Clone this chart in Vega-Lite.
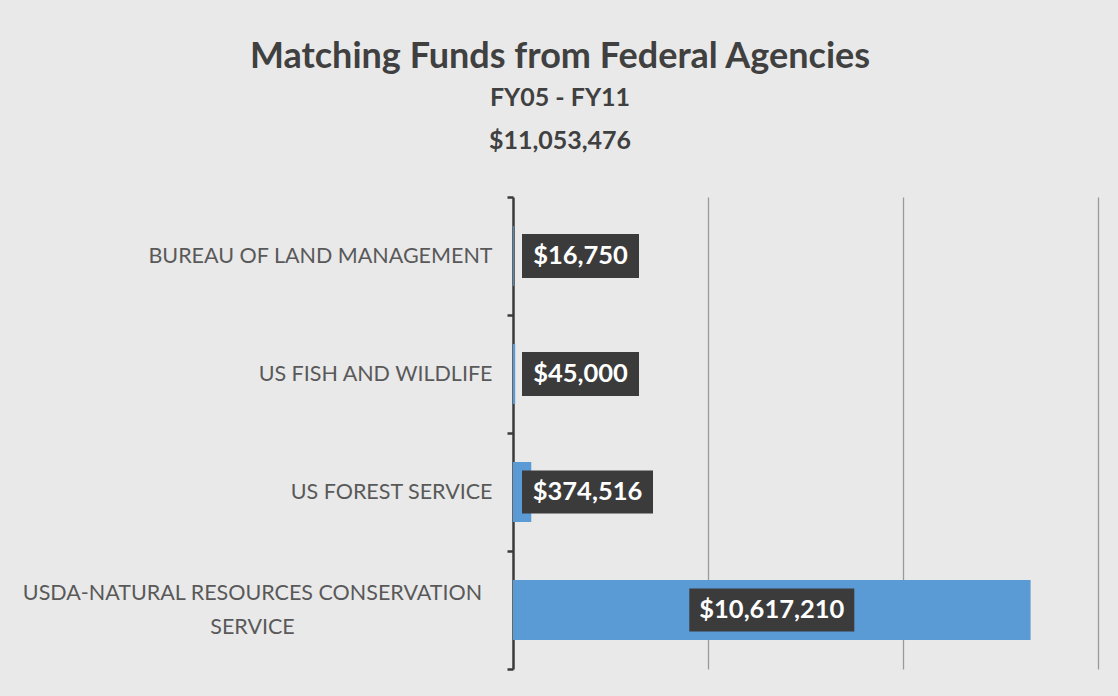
{
  "$schema": "https://vega.github.io/schema/vega-lite/v6.json",
  "width": 585,
  "height": 472,
  "autosize": "none",
  "padding": {"left": 513, "top": 197, "right": 20, "bottom": 27},
  "background": "#e9e9e9",
  "config": {"view": {"stroke": null}, "font": "Lato"},
  "title": {
    "text": "Matching Funds from Federal Agencies",
    "subtitle": ["FY05 - FY11", "$11,053,476"],
    "frame": "bounds",
    "anchor": "middle",
    "font": "Lato",
    "fontSize": 36,
    "fontWeight": "bold",
    "color": "#404040",
    "subtitleFont": "Lato",
    "subtitleFontSize": 25,
    "subtitleFontWeight": "bold",
    "subtitleColor": "#404040",
    "subtitleLineHeight": 43,
    "subtitlePadding": 10,
    "offset": 31
  },
  "data": {
    "values": [
      {"agency": "BUREAU OF LAND MANAGEMENT", "amount": 16750},
      {"agency": "US FISH AND WILDLIFE", "amount": 45000},
      {"agency": "US FOREST SERVICE", "amount": 374516},
      {"agency": "USDA-NATURAL RESOURCES CONSERVATION SERVICE", "amount": 10617210}
    ]
  },
  "encoding": {
    "y": {
      "field": "agency",
      "type": "nominal",
      "sort": null,
      "scale": {"paddingInner": 0, "paddingOuter": 0},
      "axis": {
        "title": null,
        "domainColor": "#3a3a3a",
        "domainWidth": 2.5,
        "tickColor": "#3a3a3a",
        "tickWidth": 2.5,
        "tickSize": 6,
        "tickBand": "extent",
        "labelFont": "Lato",
        "labelFontSize": 21.5,
        "labelColor": "#595959",
        "labelLimit": 0,
        "labelLineHeight": 34,
        "labelExpr": "datum.value == 'USDA-NATURAL RESOURCES CONSERVATION SERVICE' ? ['USDA-NATURAL RESOURCES CONSERVATION', 'SERVICE'] : datum.value",
        "labelAlign": {"condition": {"test": "datum.value == 'USDA-NATURAL RESOURCES CONSERVATION SERVICE'", "value": "center"}, "value": "right"},
        "labelPadding": {"condition": {"test": "datum.value == 'USDA-NATURAL RESOURCES CONSERVATION SERVICE'", "value": 255}, "value": 15},
        "labelOffset": {"condition": {"test": "datum.value == 'USDA-NATURAL RESOURCES CONSERVATION SERVICE'", "value": -17}, "value": 0}
      }
    }
  },
  "layer": [
    {
      "mark": {"type": "bar", "color": "#5b9bd5", "height": 60},
      "encoding": {
        "x": {
          "field": "amount",
          "type": "quantitative",
          "scale": {"domain": [0, 12000000], "nice": false},
          "axis": {
            "title": null,
            "domain": false,
            "ticks": false,
            "labels": false,
            "values": [4000000, 8000000, 12000000],
            "grid": true,
            "gridColor": "#9a9a9a",
            "gridWidth": 1.3
          }
        }
      }
    },
    {
      "transform": [{"filter": "datum.amount < 100000"}],
      "mark": {"type": "rect", "color": "#3b3b3b", "width": 117, "height": 44, "xOffset": 67.5},
      "encoding": {
        "x": {"datum": 0, "type": "quantitative", "scale": {"domain": [0, 12000000], "nice": false}, "axis": null}
      }
    },
    {
      "transform": [{"filter": "datum.amount < 100000"}],
      "mark": {"type": "text", "color": "white", "font": "Lato", "fontSize": 25.5, "fontWeight": "bold", "align": "center", "baseline": "middle", "dx": 67.5},
      "encoding": {
        "x": {"datum": 0, "type": "quantitative", "scale": {"domain": [0, 12000000], "nice": false}, "axis": null},
        "text": {"field": "amount", "type": "quantitative", "format": "$,.0f"}
      }
    },
    {
      "transform": [{"filter": "datum.amount >= 100000 && datum.amount < 1000000"}],
      "mark": {"type": "rect", "color": "#3b3b3b", "width": 131, "height": 43, "xOffset": 74.5},
      "encoding": {
        "x": {"datum": 0, "type": "quantitative", "scale": {"domain": [0, 12000000], "nice": false}, "axis": null}
      }
    },
    {
      "transform": [{"filter": "datum.amount >= 100000 && datum.amount < 1000000"}],
      "mark": {"type": "text", "color": "white", "font": "Lato", "fontSize": 25.5, "fontWeight": "bold", "align": "center", "baseline": "middle", "dx": 74.5},
      "encoding": {
        "x": {"datum": 0, "type": "quantitative", "scale": {"domain": [0, 12000000], "nice": false}, "axis": null},
        "text": {"field": "amount", "type": "quantitative", "format": "$,.0f"}
      }
    },
    {
      "transform": [{"filter": "datum.amount >= 1000000"}],
      "mark": {"type": "rect", "color": "#3b3b3b", "width": 165, "height": 43},
      "encoding": {
        "x": {"field": "amount", "type": "quantitative", "scale": {"domain": [0, 24000000], "nice": false}, "axis": null}
      }
    },
    {
      "transform": [{"filter": "datum.amount >= 1000000"}],
      "mark": {"type": "text", "color": "white", "font": "Lato", "fontSize": 25.5, "fontWeight": "bold", "align": "center", "baseline": "middle"},
      "encoding": {
        "x": {"field": "amount", "type": "quantitative", "scale": {"domain": [0, 24000000], "nice": false}, "axis": null},
        "text": {"field": "amount", "type": "quantitative", "format": "$,.0f"}
      }
    }
  ],
  "resolve": {"scale": {"x": "independent"}}
}
